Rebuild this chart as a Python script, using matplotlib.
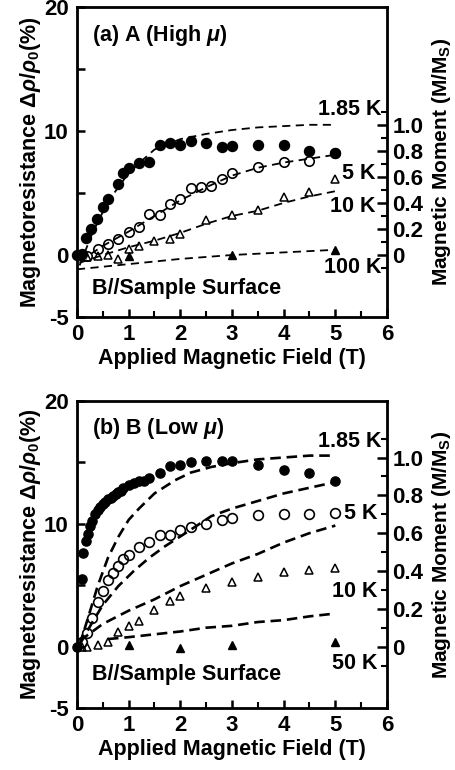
import matplotlib
matplotlib.use('Agg')
import matplotlib.pyplot as plt
from matplotlib.ticker import FixedLocator, FixedFormatter, MultipleLocator

plt.rcParams['font.family'] = ['Liberation Sans', 'DejaVu Sans']
plt.rcParams['font.weight'] = 'bold'
plt.rcParams['axes.labelweight'] = 'bold'
plt.rcParams['mathtext.fontset'] = 'custom'
plt.rcParams['mathtext.rm'] = 'Liberation Sans:bold'
plt.rcParams['mathtext.it'] = 'Liberation Sans:bold:italic'
plt.rcParams['mathtext.bf'] = 'Liberation Sans:bold'

# ---- panel (a) sample A (High mu) : magnetoresistance (%) ----
a_x_185 = [0, 0.1, 0.17, 0.28, 0.38, 0.5, 0.6, 0.8, 0.9, 1.0, 1.2, 1.4, 1.6, 1.8, 2.0, 2.2, 2.5, 2.8, 3.0, 3.5, 4.0, 4.5, 5.0]
a_mr_185 = [0, 0.1, 1.4, 2.1, 2.9, 3.9, 4.5, 5.7, 6.6, 7.0, 7.4, 7.5, 8.9, 9.0, 8.9, 9.2, 9.0, 8.7, 8.8, 8.9, 8.9, 8.4, 8.2]
a_x_5 = [0.2, 0.4, 0.6, 0.8, 1.0, 1.2, 1.4, 1.6, 1.8, 2.0, 2.2, 2.4, 2.6, 2.8, 3.0, 3.5, 4.0, 4.5, 5.0]
a_mr_5 = [-0.1, 0.5, 0.9, 1.3, 1.85, 2.25, 3.3, 3.2, 4.15, 4.5, 5.4, 5.5, 5.6, 6.1, 6.6, 7.1, 7.5, 7.6, 8.2]
a_x_10 = [0.2, 0.4, 0.6, 0.8, 1.0, 1.2, 1.5, 1.8, 2.0, 2.5, 3.0, 3.5, 4.0, 4.5, 5.0]
a_mr_10 = [-0.2, -0.1, 0.0, -0.3, 0.5, 0.7, 1.1, 1.3, 1.7, 2.8, 3.2, 3.6, 4.7, 5.1, 6.1]
a_x_100 = [1.0, 3.0, 5.0]
a_mr_100 = [-0.1, 0.0, 0.4]

# magnetization curves (M/Ms), panel (a)
a_mx_185 = [0.05, 0.3, 0.6, 1.0, 1.3, 1.5, 2.0, 2.5, 3.0, 3.5, 4.0, 4.5, 5.0]
a_m_185 = [-0.08, 0.17, 0.41, 0.63, 0.74, 0.81, 0.89, 0.93, 0.96, 0.98, 0.99, 1.0, 1.0]
a_mx_5 = [0.05, 0.5, 1.0, 1.5, 2.0, 2.5, 3.0, 3.5, 4.0, 4.5, 5.0]
a_m_5 = [-0.05, 0.07, 0.18, 0.30, 0.42, 0.52, 0.61, 0.67, 0.71, 0.74, 0.77]
a_mx_10 = [0.05, 0.5, 1.0, 1.5, 2.0, 2.5, 3.0, 3.5, 4.0, 4.5, 5.0]
a_m_10 = [-0.06, 0.0, 0.06, 0.11, 0.17, 0.24, 0.30, 0.34, 0.40, 0.45, 0.49]
a_mx_100 = [0.0, 1.0, 2.0, 3.0, 4.0, 5.0]
a_m_100 = [-0.11, -0.07, -0.03, 0.0, 0.02, 0.04]

# ---- panel (b) sample B (Low mu) ----
b_x_185 = [0, 0.09, 0.12, 0.17, 0.22, 0.26, 0.3, 0.35, 0.4, 0.45, 0.5, 0.55, 0.6, 0.65, 0.7, 0.75, 0.8,
           0.85, 0.9, 1.0, 1.1, 1.2, 1.3, 1.4, 1.6, 1.8, 2.0, 2.2, 2.5, 2.8, 3.0, 3.5, 4.0, 4.5, 5.0]
b_mr_185 = [0, 5.5, 7.6, 8.6, 9.2, 9.8, 10.2, 10.8, 11.1, 11.4, 11.6, 11.8, 12.0, 12.1, 12.3, 12.4, 12.6,
            12.7, 12.9, 13.2, 13.3, 13.5, 13.5, 13.7, 14.1, 14.7, 14.8, 15.0, 15.1, 15.1, 15.1, 14.8, 14.4, 14.1, 13.5]
b_x_5 = [0.1, 0.2, 0.3, 0.4, 0.5, 0.6, 0.7, 0.8, 0.9, 1.0, 1.2, 1.4, 1.6, 1.8, 2.0, 2.2, 2.5, 2.8, 3.0, 3.5, 4.0, 4.5, 5.0]
b_mr_5 = [0.4, 1.1, 2.3, 3.6, 4.5, 5.4, 6.0, 6.6, 7.1, 7.5, 8.1, 8.5, 9.1, 9.1, 9.5, 9.7, 10.0, 10.3, 10.5, 10.7, 10.8, 10.8, 10.9]
b_x_10 = [0.1, 0.2, 0.4, 0.6, 0.8, 1.0, 1.2, 1.5, 1.8, 2.0, 2.5, 3.0, 3.5, 4.0, 4.5, 5.0]
b_mr_10 = [0.0, 0.0, 0.1, 0.4, 1.2, 1.7, 2.1, 3.0, 3.7, 4.1, 4.8, 5.3, 5.65, 6.1, 6.2, 6.4]
b_x_50 = [1.0, 2.0, 3.0, 5.0]
b_mr_50 = [0.1, -0.1, 0.15, 0.35]

# magnetization curves (M/Ms), panel (b)
b_mx_185 = [0.05, 0.2, 0.4, 0.6, 0.8, 1.0, 1.2, 1.5, 1.9, 2.2, 2.6, 3.0, 3.5, 4.0, 4.5, 5.0]
b_m_185 = [0.01, 0.14, 0.32, 0.47, 0.58, 0.67, 0.73, 0.81, 0.88, 0.92, 0.95, 0.97, 0.99, 1.0, 1.01, 1.01]
b_mx_5 = [0.05, 0.3, 0.5, 0.8, 1.1, 1.4, 1.7, 2.1, 2.6, 3.0, 3.5, 4.0, 4.5, 5.0]
b_m_5 = [0.01, 0.13, 0.22, 0.32, 0.40, 0.47, 0.53, 0.60, 0.69, 0.73, 0.77, 0.81, 0.84, 0.87]
b_mx_10 = [0.05, 0.5, 1.0, 1.5, 2.0, 2.5, 3.0, 3.5, 4.0, 4.5, 5.0]
b_m_10 = [0.03, 0.12, 0.19, 0.25, 0.32, 0.38, 0.44, 0.49, 0.55, 0.60, 0.64]
b_mx_50 = [0.6, 1.0, 1.5, 2.0, 2.5, 3.0, 3.5, 4.0, 4.5, 5.0]
b_m_50 = [0.04, 0.05, 0.065, 0.08, 0.10, 0.11, 0.13, 0.14, 0.16, 0.175]

FS = 15.5
fig = plt.figure(figsize=(4.55, 7.7), dpi=100)


def style_axes(ax, ax2, ratio):
    ax.set_xlim(0, 6)
    ax.set_ylim(-5, 20)
    ax.xaxis.set_major_locator(MultipleLocator(1))
    ax.xaxis.set_minor_locator(MultipleLocator(0.5))
    ax.yaxis.set_major_locator(FixedLocator([-5, 0, 5, 10, 15, 20]))
    ax.yaxis.set_major_formatter(FixedFormatter(['-5', '0', '', '10', '', '20']))
    ax.tick_params(axis='both', which='major', direction='in', length=6, width=1.8,
                   labelsize=16, top=False, right=False)
    ax.tick_params(axis='x', which='major', pad=5)
    ax.tick_params(axis='y', which='major', pad=6)
    ax.tick_params(axis='both', which='minor', direction='in', length=4, width=1.5, top=False, right=False)
    ax.tick_params(axis='y', which='minor', left=False)
    for s in ax.spines.values():
        s.set_linewidth(2)
    ax2.set_ylim(-5 / ratio, 20 / ratio)
    ax2.yaxis.set_major_locator(FixedLocator([0, 0.2, 0.4, 0.6, 0.8, 1.0]))
    ax2.yaxis.set_major_formatter(FixedFormatter(['0', '0.2', '0.4', '0.6', '0.8', '1.0']))
    ax2.yaxis.set_minor_locator(FixedLocator([-0.1, 0.1, 0.3, 0.5, 0.7, 0.9, 1.1]))
    ax2.tick_params(axis='y', which='major', direction='in', length=7, width=1.8, labelsize=16, pad=4)
    ax2.tick_params(axis='y', which='minor', direction='in', length=4, width=1.5)
    ax.set_xlabel('Applied Magnetic Field (T)', fontsize=FS, labelpad=2)
    ax.set_ylabel(r'Magnetoresistance $\Delta\rho/\rho_0$(%)', fontsize=FS, labelpad=1)
    ax2.set_ylabel(r'Magnetic Moment (M/M$_\mathrm{S}$)', fontsize=15, labelpad=5)


# panel (a)
ax = fig.add_axes([0.1692, 0.5883, 0.6813, 0.4026])
ax2 = ax.twinx()
ra = 10.5
style_axes(ax, ax2, ra)
dash_a = dict(color='black', lw=1.3, dashes=(4.5, 3))
ax2.plot(a_mx_185, a_m_185, **dash_a)
ax2.plot(a_mx_5, a_m_5, **dash_a)
ax2.plot(a_mx_10, a_m_10, **dash_a)
ax2.plot(a_mx_100, a_m_100, **dash_a)
ax2.plot(a_x_185, [v / ra for v in a_mr_185], 'o', color='black', ms=7.2, clip_on=False)
ax2.plot(a_x_5, [v / ra for v in a_mr_5], 'o', mfc='none', mec='black', mew=1.2, ms=6.8)
ax2.plot(a_x_10, [v / ra for v in a_mr_10], '^', mfc='none', mec='black', mew=1.1, ms=5.5)
ax2.plot(a_x_100, [v / ra for v in a_mr_100], '^', color='black', ms=6)
ax.text(0.3, 17.7, r'(a) A (High $\mu$)', fontsize=FS, va='center')
ax.text(0.3, -2.7, 'B//Sample Surface', fontsize=FS, va='center')
ax.text(5.9, 11.7, '1.85 K', fontsize=FS, ha='right', va='center')
ax.text(5.78, 6.6, '5 K', fontsize=FS, ha='right', va='center')
ax.text(5.78, 3.9, '10 K', fontsize=FS, ha='right', va='center')
ax.text(5.9, -1.0, '100 K', fontsize=FS, ha='right', va='center')

# panel (b)
bx = fig.add_axes([0.1692, 0.0805, 0.6813, 0.3987])
bx2 = bx.twinx()
rb = 15.4
style_axes(bx, bx2, rb)
dash_b = dict(color='black', lw=1.9, dashes=(4, 2.2))
bx2.plot(b_mx_185, b_m_185, **dash_b)
bx2.plot(b_mx_5, b_m_5, **dash_b)
bx2.plot(b_mx_10, b_m_10, **dash_b)
bx2.plot(b_mx_50, b_m_50, **dash_b)
bx2.plot(b_x_185, [v / rb for v in b_mr_185], 'o', color='black', ms=6.6, clip_on=False)
bx2.plot(b_x_5, [v / rb for v in b_mr_5], 'o', mfc='none', mec='black', mew=1.2, ms=7)
bx2.plot(b_x_10, [v / rb for v in b_mr_10], '^', mfc='none', mec='black', mew=1.1, ms=5.5)
bx2.plot(b_x_50, [v / rb for v in b_mr_50], '^', color='black', ms=6)
bx.text(0.3, 17.8, r'(b) B (Low $\mu$)', fontsize=FS, va='center')
bx.text(0.3, -2.3, 'B//Sample Surface', fontsize=FS, va='center')
bx.text(5.9, 16.7, '1.85 K', fontsize=FS, ha='right', va='center')
bx.text(5.82, 10.8, '5 K', fontsize=FS, ha='right', va='center')
bx.text(5.82, 4.5, '10 K', fontsize=FS, ha='right', va='center')
bx.text(5.82, -1.4, '50 K', fontsize=FS, ha='right', va='center')

fig.savefig('out.png', dpi=100)
